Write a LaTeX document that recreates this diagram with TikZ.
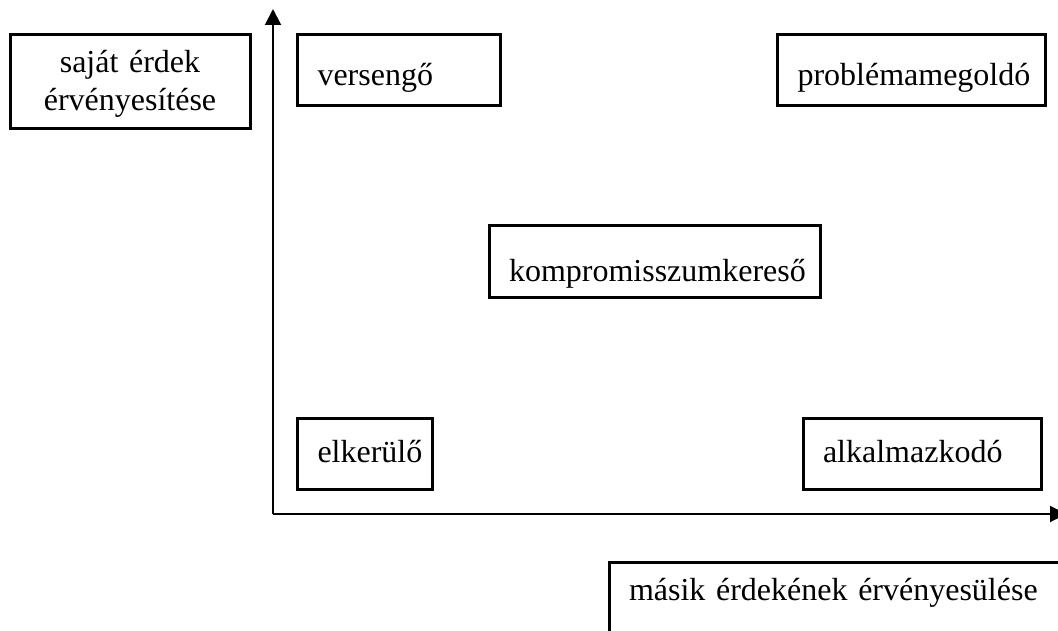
\documentclass[tikz,border=0pt]{standalone}
\usepackage{fontspec}
\setmainfont{Liberation Serif}
\usetikzlibrary{arrows.meta}
\tikzset{
  box/.style={draw, line width=3pt, inner xsep=20pt, inner ysep=0pt, outer sep=0pt,
              anchor=north west, align=left},
  axis/.style={line width=2pt, -{Triangle[length=16pt,width=16pt]}}
}
\begin{document}
\begin{tikzpicture}[x=1pt,y=-1pt,font=\fontsize{32}{37.5}\selectfont]
\useasboundingbox (0,0) rectangle (1058,631);
% tengelyek
\coordinate (O) at (273,514);
\coordinate (Y) at (273,9);
\coordinate (X) at (1066,514);
\draw[axis] (O) -- (Y);
\draw[axis] (O) -- (X);
% tengelyfeliratok
\node[box, align=center, text width=200pt, minimum height=94.5pt] (sajat) at (10,34.5)
  {\rule{0pt}{26pt}saját érdek\\érvényesítése};
\node[box, text width=430pt, text height=37.5pt, text depth=100pt] (masik) at (609,562.5)
  {másik érdekének érvényesülése};
% stílusok
\foreach \X/\x/\y/\w/\t [count=\Y] in {versengő/297.5/34.5/203/51,
  problémamegoldó/777.5/34.5/268/51, kompromisszumkereső/489/226/331/55,
  elkerülő/297.5/418/135/44, alkalmazkodó/803/418/238/44}
{\pgfmathsetmacro\d{71-\t}
 \pgfmathsetmacro\tw{\w-40}
 \node[box, text width=\tw pt, text height=\t pt, text depth=\d pt] (S-\Y) at (\x,\y) {\X};}
\end{tikzpicture}
\end{document}
